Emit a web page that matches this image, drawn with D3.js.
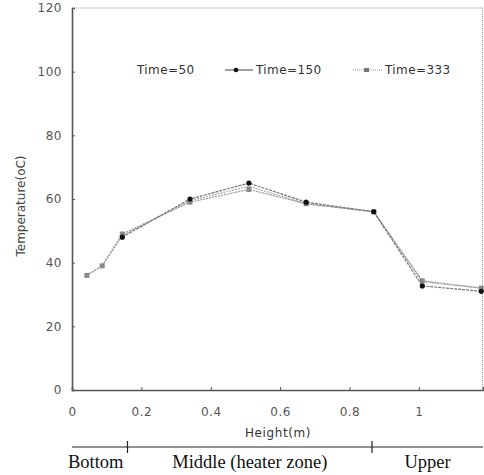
<!DOCTYPE html>
<html>
<head>
<meta charset="utf-8">
<script src="https://cdn.jsdelivr.net/npm/d3@7"></script>
<style>
body { margin: 0; background: #fff; }
text { font-family: "DejaVu Sans", Arial, sans-serif; }
</style>
</head>
<body>
<div id="chart"></div>
<script>
"use strict";

var heights = [0.043, 0.087, 0.145, 0.34, 0.51, 0.675, 0.87, 1.01, 1.18];
var temp50  = [36, 39, 48.5, 59.5, 64, 58.5, 56, 34, 32];
var temp150 = [null, null, 48, 60, 65, 59, 56, 32.7, 31];
var temp333 = [36, 39, 49, 59, 63, 58.5, 56, 34.3, 32];
var xTicks = [0, 0.2, 0.4, 0.6, 0.8, 1];
var yTicks = [0, 20, 40, 60, 80, 100, 120];
var zones = [
	{ label: "Bottom", from: 0, to: 0.16 },
	{ label: "Middle (heater zone)", from: 0.16, to: 0.865 },
	{ label: "Upper", from: 0.865, to: 1.185 }
];

var width = 484;
var height = 475;
var margin = {top: 8, right: 1, bottom: 85, left: 72};

var svg = d3.select("#chart").append("svg")
	.attr("width", width)
	.attr("height", height);

var x = d3.scaleLinear()
	.domain([0, 1.185])
	.range([margin.left, width - margin.right]);

var y = d3.scaleLinear()
	.domain([0, 120])
	.range([height - margin.bottom, margin.top]);

// frame: top and right dotted
svg.append("line")
	.attr("x1", x(0)).attr("x2", x(1.185))
	.attr("y1", y(120)).attr("y2", y(120))
	.attr("stroke", "#999").attr("stroke-dasharray", "1,1");
svg.append("line")
	.attr("x1", x(1.185) - 0.5).attr("x2", x(1.185) - 0.5)
	.attr("y1", y(120)).attr("y2", y(0))
	.attr("stroke", "#999").attr("stroke-dasharray", "1,1");

// axes
var yAxis = svg.append("g")
	.attr("transform", "translate(" + x(0) + ",0)")
	.call(d3.axisLeft(y).tickValues(yTicks).tickSize(-3).tickPadding(10).tickFormat(d3.format("d")));
var xAxis = svg.append("g")
	.attr("transform", "translate(0," + y(0) + ")")
	.call(d3.axisBottom(x).tickValues(xTicks).tickSize(-3).tickPadding(17).tickFormat(function(d) { return d === 0 || d === 1 ? d : d3.format(".1f")(d); }));

[xAxis, yAxis].forEach(function(a) {
	a.select(".domain").attr("stroke", "#555").attr("stroke-width", 1.6);
	a.selectAll(".tick line").attr("stroke", "#555");
	a.selectAll(".tick text").attr("fill", "#555")
		.style("font-family", "'DejaVu Sans', sans-serif")
		.style("font-size", "12px")
		.style("letter-spacing", "0.5px");
});

// axis titles
svg.append("text")
	.attr("x", 278).attr("y", 437)
	.attr("text-anchor", "middle")
	.attr("fill", "#333")
	.style("font-size", "12px")
	.style("letter-spacing", "0.6px")
	.text("Height(m)");

svg.append("text")
	.attr("transform", "translate(25,206) rotate(-90)")
	.attr("text-anchor", "middle")
	.attr("fill", "#444")
	.style("font-size", "12px")
	.text("Temperature(oC)");

// lines
var line = d3.line()
	.defined(function(d) { return d[1] != null; })
	.x(function(d) { return x(d[0]); })
	.y(function(d) { return y(d[1]); });

var series = [
	{ name: "Time=50", values: temp50, stroke: "#aaa", dash: "2,1", marker: "none" },
	{ name: "Time=333", values: temp333, stroke: "#999", dash: "2,1", marker: "square" },
	{ name: "Time=150", values: temp150, stroke: "#777", dash: "3,1", marker: "circle" }
];

series.forEach(function(s) {
	var pts = heights.map(function(h, i) { return [h, s.values[i]]; });
	svg.append("path")
		.datum(pts)
		.attr("fill", "none")
		.attr("stroke", s.stroke)
		.attr("stroke-width", 1.2)
		.attr("stroke-dasharray", s.dash)
		.attr("d", line);
	var valid = pts.filter(function(d) { return d[1] != null; });
	if (s.marker === "circle") {
		svg.selectAll(null).data(valid).enter().append("circle")
			.attr("cx", function(d) { return x(d[0]); })
			.attr("cy", function(d) { return y(d[1]); })
			.attr("r", 2.6)
			.attr("fill", "#111");
	} else if (s.marker === "square") {
		svg.selectAll(null).data(valid).enter().append("rect")
			.attr("x", function(d) { return x(d[0]) - 2.5; })
			.attr("y", function(d) { return y(d[1]) - 2.5; })
			.attr("width", 5).attr("height", 5)
			.attr("fill", "#888");
	}
});

// legend
var legY = 70;
var legStyle = function(t) {
	t.attr("fill", "#333").style("font-size", "12px").style("letter-spacing", "0.4px");
};
svg.append("text").attr("x", 137).attr("y", legY + 4).call(legStyle).text("Time=50");

svg.append("line").attr("x1", 225).attr("x2", 253).attr("y1", legY).attr("y2", legY)
	.attr("stroke", "#555").attr("stroke-width", 1.1);
svg.append("circle").attr("cx", 236).attr("cy", legY).attr("r", 2.3).attr("fill", "#111");
svg.append("text").attr("x", 256).attr("y", legY + 4).call(legStyle).text("Time=150");

svg.append("line").attr("x1", 353).attr("x2", 382).attr("y1", legY).attr("y2", legY)
	.attr("stroke", "#999").attr("stroke-width", 1.1).attr("stroke-dasharray", "1,1");
svg.append("rect").attr("x", 364).attr("y", legY - 2).attr("width", 5).attr("height", 4).attr("fill", "#777");
svg.append("text").attr("x", 385).attr("y", legY + 4).call(legStyle).text("Time=333");

// zone bar below the axis
var zoneY = 447;
svg.append("line")
	.attr("x1", x(0)).attr("x2", x(1.185))
	.attr("y1", zoneY).attr("y2", zoneY)
	.attr("stroke", "#222").attr("stroke-width", 1);
svg.selectAll(".zoneTick").data(zones.slice(1)).enter().append("line")
	.attr("x1", function(d) { return x(d.from); })
	.attr("x2", function(d) { return x(d.from); })
	.attr("y1", zoneY - 6).attr("y2", zoneY + 6)
	.attr("stroke", "#222").attr("stroke-width", 1.2);
svg.selectAll(".zoneLabel").data(zones).enter().append("text")
	.attr("x", function(d, i) { return i === 0 ? 68 : (x(d.from) + x(d.to)) / 2; })
	.attr("y", 468)
	.attr("text-anchor", function(d, i) { return i === 0 ? "start" : "middle"; })
	.attr("fill", "#111")
	.style("font-family", "'Liberation Serif', 'Times New Roman', serif")
	.style("font-size", "18.5px")
	.text(function(d) { return d.label; });
</script>
</body>
</html>
